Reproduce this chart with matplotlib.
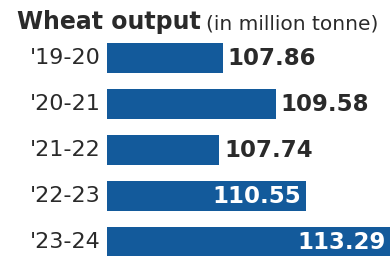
import matplotlib
matplotlib.use("Agg")
import matplotlib.pyplot as plt

# data
years = ["'19-20", "'20-21", "'21-22", "'22-23", "'23-24"]
output = [107.86, 109.58, 107.74, 110.55, 113.29]
inside = [False, False, False, True, True]

bar_color = "#135a9b"
text_color = "#2a2a2a"

plt.rcParams['font.family'] = ['DejaVu Sans']

fig = plt.figure(figsize=(3.92, 2.56), dpi=100)
W, H = 392, 256

# axes placed in pixel coords: left 107, top 35, right 392, bottom 256
ax = fig.add_axes([107 / W, 0, 285 / W, (256 - 35) / H])
ax.barh(range(len(years)), output, height=0.65, color=bar_color, left=0)
ax.set_xlim(104.09, 113.34)
ax.set_ylim(4.304, -0.5)
ax.axis("off")

for i, (lab, v, ins) in enumerate(zip(years, output, inside)):
    # year label sits left of the axes, at the bar's height
    ax.annotate(lab, xy=(0, i), xycoords=("axes fraction", "data"),
                xytext=(-6, 0), textcoords="offset pixels",
                ha="right", va="center", fontsize=16, color=text_color)
    if ins:
        ax.text(v - 0.15, i, f"{v:.2f}", ha="right", va="center", fontsize=16.5,
                fontweight="bold", color="white")
    else:
        ax.text(v + 0.15, i, f"{v:.2f}", ha="left", va="center", fontsize=16.5,
                fontweight="bold", color=text_color)

fig.text(17 / W, 1 - 29 / H, "Wheat output", fontsize=17, fontweight="bold",
         color=text_color, va="baseline", ha="left")
fig.text(206 / W, 1 - 29 / H, "(in million tonne)", fontsize=14.5,
         color=text_color, va="baseline", ha="left")

fig.savefig("out.png", dpi=100)
